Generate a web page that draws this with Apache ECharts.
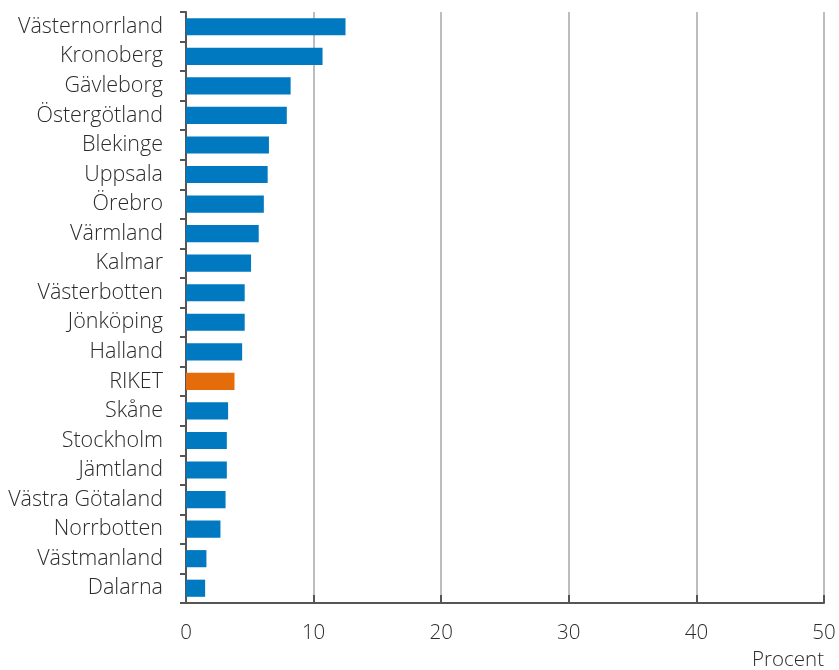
<!DOCTYPE html>
<html>
<head>
<meta charset="utf-8">
<script src="https://cdn.jsdelivr.net/npm/echarts@6/dist/echarts.min.js"></script>
<style>html,body{margin:0;padding:0;background:#fff}#c{width:839px;height:670px}</style>
</head>
<body>
<div id="c"></div>
<script>
const categories = ["Västernorrland","Kronoberg","Gävleborg","Östergötland","Blekinge","Uppsala","Örebro","Värmland","Kalmar","Västerbotten","Jönköping","Halland","RIKET","Skåne","Stockholm","Jämtland","Västra Götaland","Norrbotten","Västmanland","Dalarna"];
const values = [12.5,10.7,8.2,7.9,6.5,6.4,6.1,5.7,5.1,4.6,4.6,4.4,3.8,3.3,3.2,3.2,3.1,2.7,1.6,1.5];
const highlight = "RIKET";
const xTicks = {min:0, max:50, interval:10};
const unitLabel = "Procent";

const blue = "#0079c1", orange = "#e46c0a";
const chart = echarts.init(document.getElementById('c'));
chart.setOption({
  animation:false,
  textStyle:{fontFamily:"Open Sans"},
  grid:{left:186, right:15, top:12, bottom:67, containLabel:false},
  xAxis:{type:'value', min:xTicks.min, max:xTicks.max, interval:xTicks.interval,
    axisLine:{show:true, lineStyle:{color:'#555', width:2}},
    axisTick:{show:true, inside:true, length:8, lineStyle:{color:'#555', width:2}},
    axisLabel:{color:'#2b2b2b', fontSize:20.5, fontWeight:300, margin:20, fontFamily:"Open Sans"},
    splitLine:{show:true, lineStyle:{color:'#bdbdbd', width:2}}
  },
  yAxis:{type:'category', data:categories, inverse:true,
    axisLine:{show:true, lineStyle:{color:'#555', width:2}},
    axisTick:{show:true, length:6, alignWithLabel:false, lineStyle:{color:'#555', width:2}},
    axisLabel:{color:'#2b2b2b', fontSize:21.5, fontWeight:300, margin:23, fontFamily:"Open Sans"},
    splitLine:{show:false}
  },
  series:[{type:'bar', barCategoryGap:'42%',
    data: values.map((v,i)=>({value:v, itemStyle:{color: categories[i]===highlight?orange:blue}}))
  }],
  graphic:[{type:'text', right:15, top:650, style:{text:unitLabel, fill:'#2b2b2b', font:'300 20.5px "Open Sans"', textAlign:'right'}}]
});
</script>
</body>
</html>
